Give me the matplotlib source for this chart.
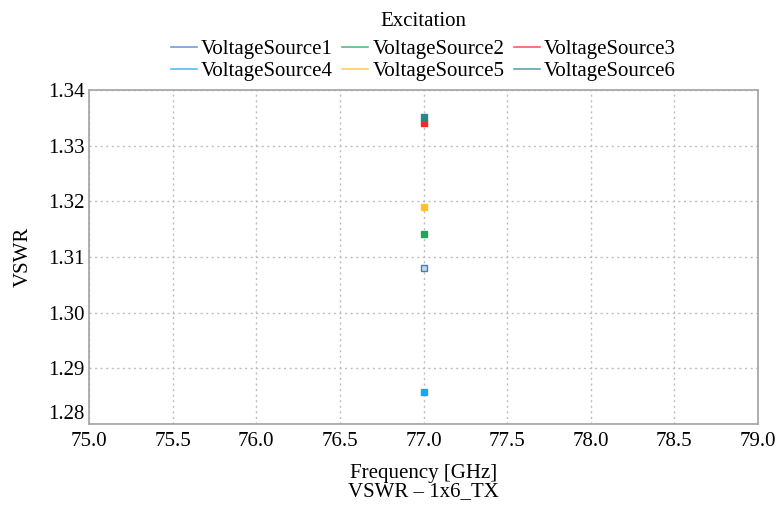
import matplotlib.pyplot as plt

# one frequency point per excitation
sources = ["VoltageSource1", "VoltageSource2", "VoltageSource3",
           "VoltageSource4", "VoltageSource5", "VoltageSource6"]
freq_ghz = [77.0, 77.0, 77.0, 77.0, 77.0, 77.0]
vswr = [1.3081, 1.3141, 1.3341, 1.2857, 1.3189, 1.3351]
colors = ["#3f7fcc", "#22a35a", "#f52828", "#1aa6f2", "#ffc21f", "#24898a"]
x_ticks = [75.0, 75.5, 76.0, 76.5, 77.0, 77.5, 78.0, 78.5, 79.0]
y_ticks = [1.28, 1.29, 1.30, 1.31, 1.32, 1.33, 1.34]

plt.rcParams["font.family"] = ["Liberation Serif", "DejaVu Serif"]
FS = 15

fig = plt.figure(figsize=(7.78, 5.12), dpi=100)
ax = fig.add_axes([89 / 778, 1 - 424 / 512, (758 - 89) / 778, (424 - 90) / 512])

handles = []
for name, f, v, c in zip(sources, freq_ghz, vswr, colors):
    face = "#c8d6e8" if name == "VoltageSource1" else c  # blue one looks hollow
    ax.plot([f], [v], marker="s", markersize=4, color=c, markerfacecolor=face,
            markeredgewidth=1, linestyle="none", zorder=3)
    h, = ax.plot([], [], color=c, linewidth=1.2, alpha=0.75, label=name)
    handles.append(h)

ax.set_xlim(75.0, 79.0)
ax.set_ylim(1.28, 1.34)
ax.set_xticks(x_ticks)
ax.set_yticks(y_ticks)
ax.set_xticklabels([f"{t:.1f}" for t in x_ticks])
ax.set_yticklabels([f"{t:.2f}" for t in y_ticks])
ax.tick_params(length=0, labelsize=FS)
ax.tick_params(axis="x", pad=6)
ax.tick_params(axis="y", pad=3)
# bottom y label sits above the corner so it does not touch 75.0
ax.get_yticklabels()[0].set_verticalalignment("bottom")
ax.grid(True, linestyle=(0, (1.5, 2.5)), color="#bdbdbd", linewidth=1)
for s in ax.spines.values():
    s.set_color("#a8a8a8")
    s.set_linewidth(1.3)

ax.set_xlabel("Frequency [GHz]", fontsize=FS, labelpad=9)
ax.set_ylabel("VSWR", fontsize=FS, labelpad=11)
fig.text(ax.get_position().x0 + ax.get_position().width / 2, 1 - 492 / 512,
         "VSWR \u2013 1x6_TX", ha="center", va="center", fontsize=FS)

# matplotlib fills legend columns first, reorder so rows read 1-2-3 / 4-5-6
order = [0, 3, 1, 4, 2, 5]
leg = fig.legend(handles=[handles[i] for i in order], title="Excitation", ncol=3,
                 loc="upper center", bbox_to_anchor=(423.5 / 778, 1 - 2 / 512),
                 frameon=False, fontsize=FS, title_fontsize=FS,
                 handlelength=1.25, handletextpad=0.2, columnspacing=0.45,
                 labelspacing=0.12, borderpad=0)
leg._legend_box.sep = 6

fig.savefig("out.png", dpi=100)
